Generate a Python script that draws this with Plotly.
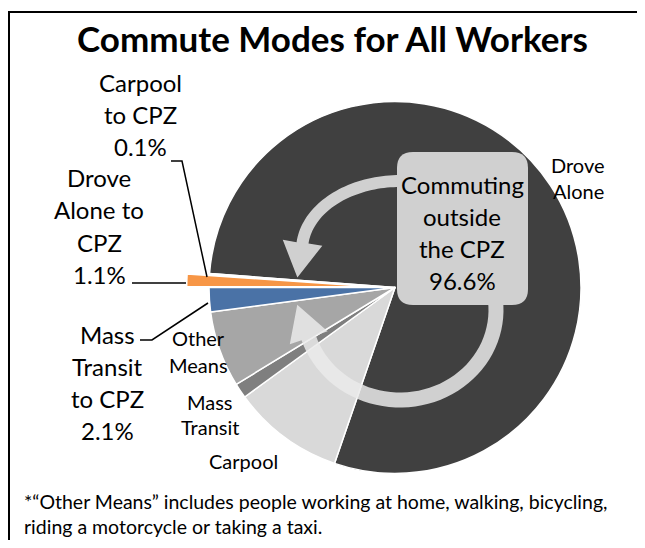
import numpy as np
import plotly.graph_objects as go

# The page body has an 8px margin, so the figure is drawn 8px smaller and offset.
W, H = 645, 548
OFF = 8
FW, FH = W - 2 * OFF, H - 2 * OFF

# ---------------- data ----------------
categories = ["Drove Alone", "Carpool", "Mass Transit", "Other Means",
              "Mass Transit to CPZ", "Drove Alone to CPZ", "Carpool to CPZ"]
shares = [79.0, 9.7, 1.3, 6.6, 2.1, 1.1, 0.1]
slice_colors = ["#404040", "#d9d9d9", "#7f7f7f", "#a6a6a6", "#4a72a6", "#f79646", "#ffffff"]
slice_pull = [0, 0, 0, 0, 0, 0.12, 0]

title_text = "Commute Modes for All Workers"
center_lines = ["Commuting", "outside", "the CPZ", "96.6%"]
cpz_labels = {
    "Carpool to CPZ": ["Carpool", "to CPZ", "0.1%"],
    "Drove Alone to CPZ": ["Drove", "Alone to", "CPZ", "1.1%"],
    "Mass Transit to CPZ": ["Mass", "Transit", "to CPZ", "2.1%"],
}
inner_labels = {
    "Drove Alone": ["Drove", "Alone"],
    "Other Means": ["Other", "Means"],
    "Mass Transit": ["Mass", "Transit"],
    "Carpool": ["Carpool"],
}
footnote = ["*\u201cOther Means\u201d includes people working at home, walking, bicycling,",
            "riding a motorcycle or taking a taxi."]

FONT = "Lato"

# ---------------- helpers ----------------
def P(x, y):
    return (x - OFF) / FW, 1 - (y - OFF) / FH


def path_from(pts, close=True):
    s = ""
    for i, (x, y) in enumerate(pts):
        px, py = P(x, y)
        s += ("M" if i == 0 else "L") + f"{px:.5f},{py:.5f} "
    return s + ("Z" if close else "")


def arrow_pts(cx, cy, rx, ry, hw, t0, t1, head_len, head_half, n=48):
    ts = np.radians(np.linspace(t0, t1, n))
    outer = [(cx + (rx + hw) * np.cos(t), cy + (ry + hw) * np.sin(t)) for t in ts]
    inner = [(cx + (rx - hw) * np.cos(t), cy + (ry - hw) * np.sin(t)) for t in ts][::-1]
    te = ts[-1]
    ex, ey = cx + rx * np.cos(te), cy + ry * np.sin(te)
    sgn = np.sign(t1 - t0)
    dx, dy = sgn * -rx * np.sin(te), sgn * ry * np.cos(te)
    L = np.hypot(dx, dy)
    dx, dy = dx / L, dy / L
    nx, ny = -dy, dx
    ox, oy = np.cos(te), np.sin(te)
    if nx * ox + ny * oy < 0:
        nx, ny = -nx, -ny
    wing_out = (ex + head_half * nx, ey + head_half * ny)
    wing_in = (ex - head_half * nx, ey - head_half * ny)
    tip = (ex + head_len * dx, ey + head_len * dy)
    return outer + [wing_out, tip, wing_in] + inner


def rounded_rect(x0, y0, x1, y1, r):
    pts = [(x0 + r, y0), (x1 - r, y0), ("Q", x1, y0, x1, y0 + r), (x1, y1 - r),
           ("Q", x1, y1, x1 - r, y1), (x0 + r, y1), ("Q", x0, y1, x0, y1 - r),
           (x0, y0 + r), ("Q", x0, y0, x0 + r, y0)]
    s = ""
    for i, p in enumerate(pts):
        if p[0] == "Q":
            a, b = P(p[1], p[2])
            c, d = P(p[3], p[4])
            s += f"Q{a:.5f},{b:.5f} {c:.5f},{d:.5f} "
        else:
            a, b = P(*p)
            s += ("M" if i == 0 else "L") + f"{a:.5f},{b:.5f} "
    return s + "Z"


# ---------------- pie ----------------
cx, cy, R = 395, 287.5, 186
half = R * (1 + max(slice_pull))
x0p, y1p = P(cx - half, cy - half)
x1p, y0p = P(cx + half, cy + half)

fig = go.Figure(go.Pie(
    labels=categories, values=shares, sort=False, direction="clockwise",
    rotation=274.3, pull=slice_pull, textinfo="none", hoverinfo="label+percent",
    marker=dict(colors=slice_colors, line=dict(color="white", width=1.5)),
    domain=dict(x=[x0p, x1p], y=[y0p, y1p]), showlegend=False,
))

shapes = []
arrow_fill = "rgba(234,234,234,0.85)"
# circular arrows (decoration)
shapes.append(dict(type="path", xref="paper", yref="paper", layer="above",
                   path=path_from(arrow_pts(400, 250, 98, 69, 6, -80, -174, 35, 20)),
                   fillcolor=arrow_fill, line=dict(width=0)))
shapes.append(dict(type="path", xref="paper", yref="paper", layer="above",
                   path=path_from(arrow_pts(400, 310, 96, 90, 7.5, -10, 162, 35, 20)),
                   fillcolor=arrow_fill, line=dict(width=0)))
# centre box
shapes.append(dict(type="path", xref="paper", yref="paper", layer="above",
                   path=rounded_rect(397, 152, 528, 305, 16),
                   fillcolor="#d0d0d0", line=dict(width=0)))
# leader lines
for pts in [[(171, 161), (182, 161), (207, 277)],
            [(132, 283), (186, 283)],
            [(140, 340), (152, 340), (208, 303)]]:
    shapes.append(dict(type="path", xref="paper", yref="paper", layer="above",
                       path=path_from(pts, close=False),
                       line=dict(color="black", width=1.5)))
# frame (top and left edges visible)
shapes.append(dict(type="path", xref="paper", yref="paper", layer="above",
                   path=path_from([(9, OFF + FH), (9, 12), (OFF + FW, 12)], close=False),
                   line=dict(color="black", width=2)))

annotations = []


def add_lines(lines, x, y0, step, size, anchor="center", bold=False):
    for i, t in enumerate(lines):
        px, py = P(x, y0 + i * step)
        annotations.append(dict(
            x=px, y=py, xref="paper", yref="paper", showarrow=False,
            text=f"<b>{t}</b>" if bold else t, xanchor=anchor, yanchor="middle",
            font=dict(family=FONT, size=size, color="black")))


add_lines([title_text], 332, 38, 0, 35, bold=True)
add_lines(center_lines, 462, 184, 32, 24)
add_lines(cpz_labels["Carpool to CPZ"], 140, 82, 32, 24)
add_lines(cpz_labels["Drove Alone to CPZ"], 99, 177, 32.5, 24)
add_lines(cpz_labels["Mass Transit to CPZ"], 107, 334, 32, 24)
add_lines(inner_labels["Drove Alone"], 578, 165, 26, 20)
add_lines(inner_labels["Other Means"], 198, 338, 27, 20)
add_lines(inner_labels["Mass Transit"], 210, 402, 25, 20)
add_lines(inner_labels["Carpool"], 243, 461, 26, 20)
add_lines(footnote, 22, 501, 25.5, 19.5, anchor="left")

fig.update_layout(
    width=FW, height=FH, margin=dict(l=0, r=0, t=0, b=0),
    paper_bgcolor="white", plot_bgcolor="white",
    shapes=shapes, annotations=annotations, showlegend=False,
)

fig.write_html("out.html")
